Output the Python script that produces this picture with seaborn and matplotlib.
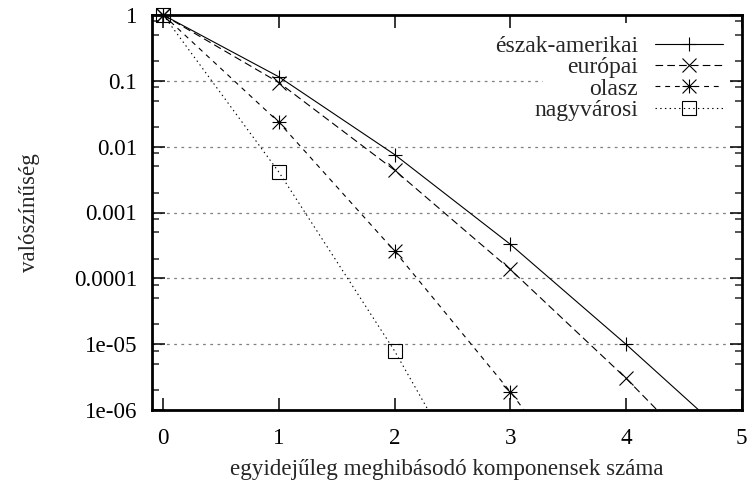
import numpy as np
import pandas as pd
import matplotlib
matplotlib.use("Agg")
import matplotlib.pyplot as plt
import seaborn as sns
from matplotlib.lines import Line2D
from matplotlib.patches import Rectangle
from matplotlib.path import Path
from matplotlib.ticker import FixedLocator, FixedFormatter, LogLocator, NullFormatter

# ---------------- data ----------------
series_names = ["észak-amerikai", "európai", "olasz", "nagyvárosi"]

# measured points (markers)
x_na = [0, 1, 2, 3, 4]
y_na = [1.0, 0.115, 0.0076, 3.3e-4, 1.0e-5]
x_eu = [0, 1, 2, 3, 4]
y_eu = [1.0, 0.094, 0.0044, 1.37e-4, 3.05e-6]
x_it = [0, 1, 2, 3]
y_it = [1.0, 0.0234, 2.6e-4, 1.9e-6]
x_nv = [0, 1, 2]
y_nv = [1.0, 0.0041, 7.9e-6]

# model curves (vertices, down to the bottom edge)
cx_na = [0, 1, 2, 3, 4, 4.63]
cy_na = [1.0, 0.115, 0.0076, 3.3e-4, 1.0e-5, 1e-6]
cx_eu = [0, 1, 2, 3, 4, 4.27]
cy_eu = [1.0, 0.094, 0.0044, 1.37e-4, 3.05e-6, 1e-6]
cx_it = [0, 1, 2, 3, 3.12]
cy_it = [1.0, 0.0234, 2.6e-4, 1.9e-6, 1e-6]
cx_nv = [0, 1, 2, 2.29]
cy_nv = [1.0, 0.0041, 7.9e-6, 1e-6]

x_ticks = [0, 1, 2, 3, 4, 5]
y_ticks = [1, 0.1, 0.01, 0.001, 0.0001, 1e-05, 1e-06]
y_tick_labels = ["1", "0.1", "0.01", "0.001", "0.0001", "1e-05", "1e-06"]
x_label = "egyidejűleg meghibásodó komponensek száma"
y_label = "valószínűség"

# ---------------- style ----------------
sns.set_theme(style="ticks")
plt.rcParams["font.family"] = ["Liberation Serif", "DejaVu Serif"]
plt.rcParams["lines.scale_dashes"] = False
FS = 16.6
LFS = 17.0

# asterisk marker = plus + cross
ast_path = Path(
    [(-1, 0), (1, 0), (0, -1), (0, 1), (-1, -1), (1, 1), (-1, 1), (1, -1)],
    [Path.MOVETO, Path.LINETO] * 4,
)

styles = {
    "észak-amerikai": dict(ls="-", marker="+"),
    "európai": dict(ls=(0, (5.5, 3.0)), marker="x"),
    "olasz": dict(ls=(0, (3.5, 3.5)), marker=ast_path),
    "nagyvárosi": dict(ls=(0, (1.0, 2.4)), marker="s"),
}
points = {
    "észak-amerikai": (x_na, y_na),
    "európai": (x_eu, y_eu),
    "olasz": (x_it, y_it),
    "nagyvárosi": (x_nv, y_nv),
}
curves = {
    "észak-amerikai": (cx_na, cy_na),
    "európai": (cx_eu, cy_eu),
    "olasz": (cx_it, cy_it),
    "nagyvárosi": (cx_nv, cy_nv),
}

W, H = 748, 482
fig = plt.figure(figsize=(W / 100, H / 100), dpi=100)
L, R, T, B = 151.7, 741.5, 15.0, 410.0
ax = fig.add_axes([L / W, 1 - B / H, (R - L) / W, (B - T) / H])
ax.set_yscale("log")
ax.set_xlim(-0.1, 5)
ax.set_ylim(1e-6, 1)

MS = 10
LW = 0.8
for name in series_names:
    cx, cy = curves[name]
    sns.lineplot(x=cx, y=cy, ax=ax, color="black", lw=LW,
                 linestyle=styles[name]["ls"], estimator=None, sort=False, zorder=3)
    px, py = points[name]
    mk = styles[name]["marker"]
    sns.lineplot(x=px, y=py, ax=ax, color="black", linestyle="none",
                 marker=mk, markersize=MS, markeredgewidth=LW,
                 markerfacecolor="none", markeredgecolor="black",
                 estimator=None, sort=False, zorder=6, clip_on=False)

# grid (horizontal, major only)
ax.grid(False)
ax.yaxis.grid(True, which="major", color="#808080", lw=0.9,
              linestyle=(0, (2.0, 3.2)))
ax.xaxis.grid(False)

# opaque key area (hides the grid behind the legend, as in the original)
ax.add_patch(Rectangle((0.6635, 0.729), 0.317, 0.251, transform=ax.transAxes,
                       facecolor="white", edgecolor="none", zorder=2.6))

# ticks
ax.xaxis.set_major_locator(FixedLocator(x_ticks))
ax.xaxis.set_major_formatter(FixedFormatter([str(t) for t in x_ticks]))
ax.yaxis.set_major_locator(FixedLocator(y_ticks))
ax.yaxis.set_major_formatter(FixedFormatter(y_tick_labels))
ax.yaxis.set_minor_locator(LogLocator(base=10, subs=(2, 5, 8), numticks=20))
ax.yaxis.set_minor_formatter(NullFormatter())
ax.tick_params(axis="both", which="major", direction="in", length=9, width=1.1,
               top=True, right=True, labelsize=FS, colors="black")
ax.tick_params(axis="y", which="minor", direction="in", length=5, width=1.1,
               left=True, right=True)
ax.tick_params(axis="y", which="major", pad=10.5)
ax.tick_params(axis="x", which="major", pad=13)
for sp in ax.spines.values():
    sp.set_linewidth(2.0)
    sp.set_color("black")
    sp.set_zorder(4)

ax.set_xlabel(x_label, fontsize=FS)
ax.set_ylabel(y_label, fontsize=FS)
ax.xaxis.set_label_coords(0.5, -0.125)
ax.yaxis.set_label_coords(-0.19, 0.5)

# legend
handles = [Line2D([], [], color="black", lw=LW, linestyle=styles[n]["ls"],
                  marker=styles[n]["marker"], markersize=MS, markeredgewidth=LW,
                  markerfacecolor="none", markeredgecolor="black")
           for n in series_names]
leg = ax.legend(handles, series_names, loc="upper right",
                bbox_to_anchor=(0.9805, 0.966), markerfirst=False,
                frameon=False, fontsize=LFS,
                handlelength=2.87, handletextpad=0.72, labelspacing=-0.01,
                borderpad=0.3, borderaxespad=0.0, markerscale=1.0)
leg.set_zorder(5)

fig.savefig("out.png", dpi=100)
